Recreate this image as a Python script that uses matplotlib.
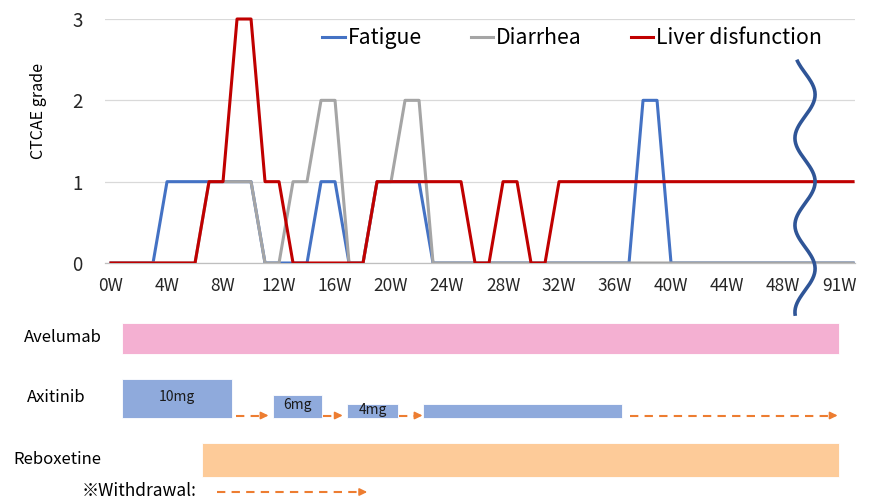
import numpy as np
import matplotlib
matplotlib.use("Agg")
import matplotlib.pyplot as plt
from matplotlib.patches import Rectangle

plt.rcParams['font.family'] = ['Noto Sans CJK JP', 'DejaVu Sans']

# weekly CTCAE grades, week 0 .. 53 (last tick shown as 91W)
weeks = np.arange(54)
fatigue = [0, 0, 0, 0, 1, 1, 1, 1, 1, 1, 1, 0, 0, 0, 0, 1, 1, 0, 0, 1,
           1, 1, 1, 0, 0, 0, 0, 0, 0, 0, 0, 0, 0, 0, 0, 0, 0, 0, 2, 2,
           0, 0, 0, 0, 0, 0, 0, 0, 0, 0, 0, 0, 0, 0]
diarrhea = [0, 0, 0, 0, 0, 0, 0, 1, 1, 1, 1, 0, 0, 1, 1, 2, 2, 0, 0, 1,
            1, 2, 2, 0, 0, 0, 0, 0, 0, 0, 0, 0, 0, 0, 0, 0, 0, 0, 0, 0,
            0, 0, 0, 0, 0, 0, 0, 0, 0, 0, 0, 0, 0, 0]
liver = [0, 0, 0, 0, 0, 0, 0, 1, 1, 3, 3, 1, 1, 0, 0, 0, 0, 0, 0, 1,
         1, 1, 1, 1, 1, 1, 0, 0, 1, 1, 0, 0, 1, 1, 1, 1, 1, 1, 1, 1,
         1, 1, 1, 1, 1, 1, 1, 1, 1, 1, 1, 1, 1, 1]

tick_weeks = [0, 4, 8, 12, 16, 20, 24, 28, 32, 36, 40, 44, 48, 52]
tick_labels = ['0W', '4W', '8W', '12W', '16W', '20W', '24W', '28W', '32W',
               '36W', '40W', '44W', '48W', '91W']

# treatment periods (in weeks)
avelumab = (0.75, 52.0)
reboxetine = (6.5, 52.0)
axi_start = [0.75, 11.55, 16.85, 22.3]
axi_end = [8.65, 15.05, 20.5, 36.5]
axi_dose = ['10mg', '6mg', '4mg', '']
withdraw_start = [8.9, 15.15, 20.6, 37.1]
withdraw_end = [11.25, 16.55, 22.25, 51.9]

W, H = 871, 500
fig = plt.figure(figsize=(8.71, 5.0), dpi=100)

# ---- grades panel
ax = fig.add_axes([105 / W, 1 - 263 / H, 750 / W, 244 / H])
# clip at the bottom edge only (like the original), let the grade-3 peak show fully
clip = Rectangle((0, 0), 1, 1.05, transform=ax.transAxes, facecolor='none', edgecolor='none')
ax.add_patch(clip)
for ys, col, lab, z in [(fatigue, '#4472C4', 'Fatigue', 3),
                        (diarrhea, '#A5A5A5', 'Diarrhea', 4),
                        (liver, '#C00000', 'Liver disfunction', 5)]:
    ln, = ax.plot(weeks, ys, color=col, lw=2.2, label=lab, zorder=z)
    ln.set_clip_path(clip)
ax.set_xlim(-0.43, 53.14)
ax.set_ylim(0, 3)
ax.set_yticks([0, 1, 2, 3])
ax.set_xticks(tick_weeks)
ax.set_xticklabels(tick_labels)
ax.tick_params(axis='x', length=0, pad=10, labelsize=12.5, colors='#262626')
ax.tick_params(axis='y', length=0, pad=16, labelsize=13.5, colors='#262626')
ax.grid(axis='y', color='#D9D9D9', lw=0.9)
ax.set_axisbelow(True)
for s in ['top', 'right', 'left']:
    ax.spines[s].set_visible(False)
ax.spines['bottom'].set_color('#BFBFBF')
ax.spines['bottom'].set_linewidth(0.9)
ax.set_ylabel('CTCAE grade', fontsize=11.5)
ax.yaxis.set_label_coords((47 - 105) / 750, (263 - 111) / 244)

leg = ax.legend(loc='center', bbox_to_anchor=(0.657, 1 - 38 / H), bbox_transform=fig.transFigure,
                ncol=3, frameon=False, fontsize=15.3, handlelength=1.05, handletextpad=0.15,
                columnspacing=2.3)

# break mark (wavy line)
g = np.linspace(-0.65, 2.5, 200)
ax.plot(49.57 + 0.72 * np.cos(2 * np.pi * (g - 1) / 1.07), g, color='#2F5597', lw=2.6,
        clip_on=False, zorder=10, solid_capstyle='butt')

# ---- treatment panel (y in pixel rows)
bx = fig.add_axes([105 / W, 0, 750 / W, 200 / H])
bx.set_xlim(ax.get_xlim())
bx.set_ylim(500, 300)
bx.axis('off')

bx.barh(338.5, avelumab[1] - avelumab[0], left=avelumab[0], height=31,
        color='#F4B0D2', edgecolor='white', lw=0.6)
bx.barh(460, reboxetine[1] - reboxetine[0], left=reboxetine[0], height=34,
        color='#FDCB99', edgecolor='white', lw=0.6)
axi_h = [39, 23, 14, 14]
for s, e, d, h in zip(axi_start, axi_end, axi_dose, axi_h):
    bx.barh(418 - h / 2, e - s, left=s, height=h, color='#8FAADC', edgecolor='white', lw=0.6)
    if d:
        bx.text((s + e) / 2, 418 - h / 2 - 1, d, ha='center', va='center', fontsize=10, color='#1a1a1a')


def dashed_arrow(x0, x1, y):
    bx.plot([x0, x1 - 0.3], [y, y], color='#ED7D31', lw=1.5, dashes=(4, 3))
    bx.annotate('', xy=(x1, y), xytext=(x1 - 0.4, y),
                arrowprops=dict(arrowstyle='-|>,head_length=0.45,head_width=0.22',
                                color='#ED7D31', lw=1.2, shrinkA=0, shrinkB=0))


for s, e in zip(withdraw_start, withdraw_end):
    dashed_arrow(s, e, 415.5)
dashed_arrow(7.55, 18.3, 492)

fig.text(24 / W, 1 - 338 / H, 'Avelumab', fontsize=12, va='center', ha='left')
fig.text(27 / W, 1 - 397 / H, 'Axitinib', fontsize=12, va='center', ha='left')
fig.text(13 / W, 1 - 459 / H, 'Reboxetine', fontsize=12, va='center', ha='left')
fig.text(82 / W, 1 - 491 / H, '※Withdrawal:', fontsize=12.5, va='center', ha='left')

fig.savefig('out.png', dpi=100)
